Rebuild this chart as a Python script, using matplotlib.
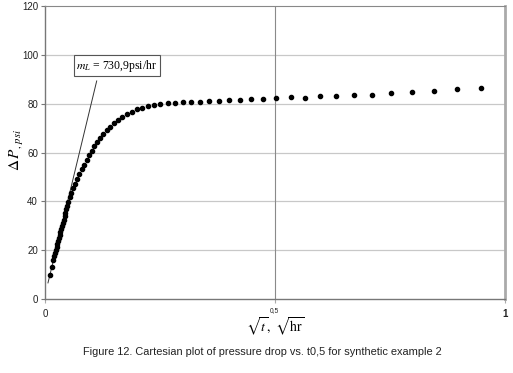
import matplotlib
matplotlib.use("Agg")
import matplotlib.pyplot as plt

# sqrt(t) values and pressure drop
sqrt_t = [0.0109, 0.0145, 0.0178, 0.0200, 0.0220, 0.0237, 0.0253, 0.0269, 0.0285,
          0.0301, 0.0318, 0.0335, 0.0352, 0.0370, 0.0388, 0.0406, 0.0425, 0.0444,
          0.0464, 0.0484, 0.0505, 0.0535, 0.0573, 0.0615, 0.0658, 0.0703, 0.0750,
          0.0798, 0.0848, 0.0907, 0.0963, 0.1015, 0.1072, 0.1137, 0.1196, 0.1267,
          0.1341, 0.1413, 0.1500, 0.1587, 0.1680, 0.1783, 0.1891, 0.2007, 0.2115,
          0.2233, 0.2363, 0.2507, 0.2667, 0.2826, 0.2993, 0.3180, 0.3370, 0.3565,
          0.3780, 0.3990, 0.4230, 0.4485, 0.4750, 0.5025, 0.5340, 0.5645, 0.5985,
          0.6330, 0.6710, 0.7110, 0.7530, 0.7970, 0.8450, 0.8960, 0.9470]
dp = [9.8, 13.3, 16.0, 17.7, 19.0, 20.2, 21.4, 22.6, 23.8,
      25.0, 26.2, 27.4, 28.6, 29.9, 31.2, 32.5, 33.9, 35.3,
      36.7, 38.1, 39.6, 41.6, 43.5, 45.4, 47.3, 49.2, 51.2,
      53.1, 54.9, 56.9, 59.0, 60.7, 62.5, 64.3, 65.9, 67.6,
      69.2, 70.6, 72.0, 73.3, 74.7, 75.8, 76.7, 77.7, 78.3,
      78.9, 79.5, 79.7, 80.1, 80.4, 80.6, 80.8, 80.8, 81.2,
      81.2, 81.5, 81.6, 81.8, 81.95, 82.25, 82.6, 82.5, 83.0,
      83.3, 83.4, 83.7, 84.2, 84.8, 85.3, 85.9, 86.6]

# early-time straight line (slope m_L)
line_x = [0.0065, 0.1124]
line_y = [6.6, 89.3]

y_ticks = [0, 20, 40, 60, 80, 100, 120]
x_ticks = [0, 0.5, 1]
x_ticklabels = ["0", "", "1"]

plt.rcParams["mathtext.fontset"] = "stix"

fig = plt.figure(figsize=(5.13, 3.73), dpi=100)
ax = fig.add_axes([0.0877, 0.1984, 0.8967, 0.7855])

ax.set_xlim(0, 1)
ax.set_ylim(0, 120)

for yv in y_ticks[1:-1]:
    ax.axhline(yv, color="#c8c8c8", lw=0.9, zorder=0)
ax.axvline(0.5, color="#8a8a8a", lw=0.8, zorder=0)

ax.plot(line_x, line_y, color="#333333", lw=0.7, zorder=2)
ax.plot(sqrt_t, dp, "o", color="black", ms=3.0, mec="black", zorder=3)

ax.annotate(r"$m_L$ = 730,9psi/hr", xy=(0.1565, 95.5), ha="center", va="center",
            fontsize=8.5, family="Liberation Serif",
            bbox=dict(boxstyle="square,pad=0.22", fc="white", ec="#555555", lw=0.8))

ax.set_yticks(y_ticks)
ax.set_xticks(x_ticks)
ax.set_xticklabels(x_ticklabels)
ax.tick_params(axis="y", length=3, width=0.8, color="#777777", pad=2, labelsize=7)
ax.tick_params(axis="x", length=3, width=0.8, color="#aaaaaa", pad=4, labelsize=7)
for lab in ax.get_yticklabels() + ax.get_xticklabels():
    lab.set_family("Liberation Sans")
    lab.set_color("#222222")
ax.get_xticklabels()[2].set_fontweight("bold")

for side in ["left", "bottom"]:
    ax.spines[side].set_color("#777777")
    ax.spines[side].set_linewidth(1.0)
ax.spines["top"].set_color("#888888")
ax.spines["top"].set_linewidth(0.8)
ax.spines["right"].set_color("#aaaaaa")
ax.spines["right"].set_linewidth(2.0)

# small "0,5" label sitting just above the axis title
fig.text(0.534, 0.167, "0,5", ha="center", va="center", fontsize=4.8,
         family="Liberation Sans", color="#222222")
fig.text(0.536, 0.124, r"$\sqrt{t},\ \sqrt{\mathrm{hr}}$", ha="center", va="center", fontsize=10)
fig.text(0.033, 0.598, r"$\Delta\,P_{,\,psi}$", ha="center", va="center", fontsize=11,
         rotation=90)
fig.text(0.511, 0.056,
         "Figure 12. Cartesian plot of pressure drop vs. t0,5 for synthetic example 2",
         ha="center", va="center", fontsize=7.9, family="Liberation Sans", color="#222222")

fig.savefig("out.png", dpi=100)
